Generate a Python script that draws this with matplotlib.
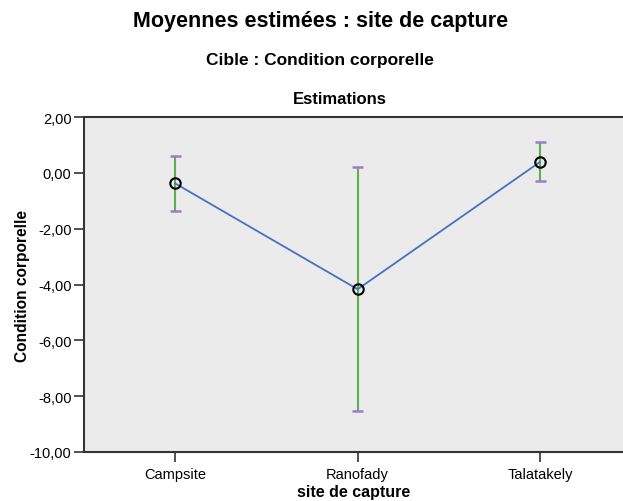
import matplotlib.pyplot as plt
import numpy as np

# moyennes estimées et intervalles de confiance
sites = ['Campsite', 'Ranofady', 'Talatakely']
moyennes = [-0.38, -4.17, 0.39]
ic_bas = [-1.36, -8.54, -0.28]
ic_haut = [0.59, 0.21, 1.09]
yticks = [2, 0, -2, -4, -6, -8, -10]

plt.rcParams['font.family'] = ['Liberation Sans', 'DejaVu Sans']

fig = plt.figure(figsize=(6.23, 5.02), dpi=100)
ax = fig.add_axes([84/623, 49/502, 1 - 84/623, 335/502])
ax.set_facecolor('#EBEBEB')

x = np.arange(len(sites))
m = np.array(moyennes)
bas = np.array(ic_bas)
haut = np.array(ic_haut)

# barres d'erreur : tige verte, embouts violets
ax.vlines(x, bas, haut, color='#5FAF4F', lw=1.5, zorder=2)
ax.hlines(np.concatenate([bas, haut]), np.concatenate([x, x]) - 0.03,
          np.concatenate([x, x]) + 0.03, color='#9B7DC8', lw=1.8, zorder=3)
ax.plot(x, m, color='#4472C4', lw=1.3, zorder=4)
ax.plot(x, m, 'o', ms=7.5, mfc='none', mec='black', mew=1.5, zorder=5)

ax.set_xlim(-0.5, (623 - 175) / 182.5)
ax.set_ylim(-10, 2)
ax.set_yticks(yticks)
ax.set_yticklabels([f'{v:.2f}'.replace('.', ',') for v in yticks], fontsize=10.5)
ax.set_xticks(x)
ax.set_xticklabels(sites, fontsize=10.5)
ax.tick_params(axis='both', direction='out', length=7, width=1.2, color='#333333')
ax.tick_params(axis='x', pad=4)
ax.tick_params(axis='y', pad=2)

for s in ['left', 'bottom', 'top']:
    ax.spines[s].set_linewidth(1.5)
    ax.spines[s].set_color('#333333')
ax.spines['right'].set_visible(False)

ax.set_xlabel('site de capture', fontsize=11.5, fontweight='bold', labelpad=2)
ax.set_ylabel('Condition corporelle', fontsize=11.2, fontweight='bold', labelpad=0)

fig.text(321/623, 1 - 21/502, 'Moyennes estimées : site de capture',
         ha='center', va='center', fontsize=15.5, fontweight='bold')
fig.text(320/623, 1 - 61/502, 'Cible : Condition corporelle',
         ha='center', va='center', fontsize=12.5, fontweight='bold')
fig.text(340/623, 1 - 100/502, 'Estimations',
         ha='center', va='center', fontsize=12, fontweight='bold')

fig.savefig('out.png', dpi=100)
